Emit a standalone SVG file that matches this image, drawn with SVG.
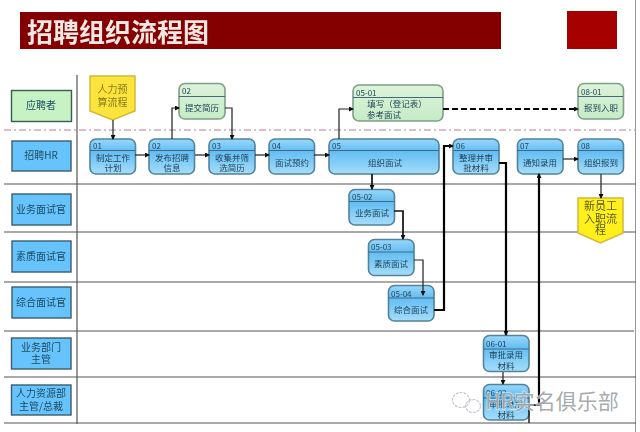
<svg xmlns="http://www.w3.org/2000/svg" width="640" height="432" viewBox="0 0 640 432">
<defs>
<linearGradient id="blue" x1="0" y1="0" x2="0" y2="1"><stop offset="0" stop-color="#9ad8fb"/><stop offset="0.35" stop-color="#62bdf4"/><stop offset="1" stop-color="#a6ddf9"/></linearGradient>
<linearGradient id="green" x1="0" y1="0" x2="0" y2="1"><stop offset="0" stop-color="#dcf3da"/><stop offset="1" stop-color="#c6ebc6"/></linearGradient>
<marker id="a" markerWidth="5" markerHeight="5" refX="4" refY="2.5" orient="auto" markerUnits="userSpaceOnUse"><path d="M0 0L5 2.5L0 5z" fill="#111"/></marker>
<filter id="soft" x="0" y="0" width="1" height="1"><feGaussianBlur stdDeviation="0.65"/></filter>
</defs>
<style>
text{font-family:"Noto Sans CJK SC","Liberation Sans",sans-serif;fill:#1f4358;text-anchor:middle}
.n{font-size:8.5px}
.id{font-size:8px;text-anchor:start}
.lane{font-size:10px;fill:#1d4a63}
.b{fill:url(#blue);stroke:#51839a;stroke-width:1.6}
.g{fill:url(#green);stroke:#7f9f87;stroke-width:1.6}
.h{stroke:#47687a;stroke-width:1;fill:none}
.lb{fill:#66c3fb;stroke:#3b5d70;stroke-width:1.4}
.lg{fill:#c6f2c4;stroke:#3b5d50;stroke-width:1.4}
.y{fill:#fff01e;stroke:#d4b83a;stroke-width:1.5}
.grid{stroke:#555;stroke-width:1.2;fill:none}
.c{stroke:#222;stroke-width:1.2;fill:none;marker-end:url(#a)}
.m{stroke:#111;stroke-width:1.7;fill:none;marker-end:url(#a)}
.t{stroke:#000;stroke-width:2.2;fill:none;marker-end:url(#a)}
</style>
<rect width="640" height="432" fill="#fff"/>
<g filter="url(#soft)">
<g id="header">
<rect x="20" y="12" width="481" height="37" fill="#840000"/>
<rect x="567" y="11" width="50" height="38" fill="#a60000"/>
<text x="118" y="42" style="font-size:26px;font-weight:700;fill:#f4e6e2">招聘组织流程图</text>
</g>
<g id="grid">
<path class="grid" d="M77 75V424M636 0V432M4 184H636M4 232H636M4 282H636M4 331H634M4 377H636M4 423H636"/>
<path d="M4 130H636" stroke="#b87f90" stroke-width="1" stroke-dasharray="7 3 2 3" fill="none"/>
</g>
<g id="lanes">
<g id="lane1"><rect class="lg" x="11.500" y="90.500" width="60" height="31"/><text class="lane" x="41" y="109">应聘者</text></g>
<g id="lane2"><rect class="lb" x="12" y="141" width="59" height="30"/><text class="lane" x="41" y="159">招聘HR</text></g>
<g id="lane3"><rect class="lb" x="12" y="194" width="59" height="31"/><text class="lane" x="41" y="213">业务面试官</text></g>
<g id="lane4"><rect class="lb" x="12" y="241" width="59" height="31"/><text class="lane" x="41" y="260">素质面试官</text></g>
<g id="lane5"><rect class="lb" x="12" y="287" width="59" height="31"/><text class="lane" x="41" y="306">综合面试官</text></g>
<g id="lane6"><rect class="lb" x="11.500" y="338" width="59.500" height="31"/><text class="lane" x="41" y="351">业务部门</text><text class="lane" x="41" y="363">主管</text></g>
<g id="lane7"><rect class="lb" x="11.500" y="385" width="59.500" height="30"/><text class="lane" x="41" y="397">人力资源部</text><text class="lane" x="41" y="410">主管/总裁</text></g>
</g>
<g id="start"><path class="y" style="fill:#fbe43a" d="M90 76H135V111L112.500 120L90 111Z"/><text class="n" style="font-size:10px;fill:#8a7a20" x="112.500" y="93">人力预</text><text class="n" style="font-size:10px;fill:#8a7a20" x="112.500" y="106">算流程</text></g>
<g id="n02a"><rect class="g" x="179" y="83.500" width="46" height="35.500" rx="6"/><path class="h" d="M179 96.500H225"/><text class="id" x="182" y="94">02</text><text class="n" x="202" y="111">提交简历</text></g>
<g id="n01"><rect class="b" x="90" y="139" width="45.500" height="35" rx="6"/><path class="h" d="M90 150.500H135"/><text class="id" x="93" y="149">01</text><text class="n" x="113" y="161">制定工作</text><text class="n" x="113" y="171">计划</text></g>
<g id="n02"><rect class="b" x="149" y="139" width="45.500" height="35" rx="6"/><path class="h" d="M149 150.500H194"/><text class="id" x="152" y="149">02</text><text class="n" x="172" y="161">发布招聘</text><text class="n" x="172" y="171">信息</text></g>
<g id="n03"><rect class="b" x="209" y="139" width="46" height="35" rx="6"/><path class="h" d="M209 150.500H255"/><text class="id" x="212" y="149">03</text><text class="n" x="232" y="161">收集并筛</text><text class="n" x="232" y="171">选简历</text></g>
<g id="n04"><rect class="b" x="269" y="139" width="45.500" height="35" rx="6"/><path class="h" d="M269 150.500H314"/><text class="id" x="272" y="149">04</text><text class="n" x="292" y="166">面试预约</text></g>
<g id="n05"><rect class="b" x="329" y="139" width="110" height="35" rx="6"/><path class="h" d="M329 150.500H439"/><text class="id" x="332" y="149">05</text><text class="n" x="385" y="166">组织面试</text></g>
<g id="n0501"><rect class="g" x="353" y="85" width="90" height="36" rx="6"/><path class="h" d="M353 97.500H443"/><text class="id" x="356" y="96">05-01</text><text class="n" x="397" y="107">填写（登记表）</text><text class="n" x="384" y="118">参考面试</text></g>
<g id="n0801"><rect class="g" x="578" y="83.500" width="45.500" height="35.500" rx="6"/><path class="h" d="M578 96.500H623"/><text class="id" x="581" y="95">08-01</text><text class="n" x="601" y="111">报到入职</text></g>
<g id="n06"><rect class="b" x="453" y="139" width="46" height="35" rx="6"/><path class="h" d="M453 150.500H499"/><text class="id" x="456" y="149">06</text><text class="n" x="476" y="161">整理并审</text><text class="n" x="476" y="171">批材料</text></g>
<g id="n07"><rect class="b" x="517.500" y="139" width="45.500" height="35" rx="6"/><path class="h" d="M517 150.500H563"/><text class="id" x="520" y="149">07</text><text class="n" x="540" y="166">通知录用</text></g>
<g id="n08"><rect class="b" x="578" y="139" width="45.500" height="35" rx="6"/><path class="h" d="M578 150.500H623"/><text class="id" x="581" y="149">08</text><text class="n" x="601" y="166">组织报到</text></g>
<g id="n0502"><rect class="b" x="349" y="189.500" width="45.500" height="35.500" rx="6"/><path class="h" d="M349 201.500H394"/><text class="id" x="352" y="200">05-02</text><text class="n" x="372" y="216">业务面试</text></g>
<g id="n0503"><rect class="b" x="368.500" y="239.500" width="45.500" height="36" rx="6"/><path class="h" d="M368 252H414"/><text class="id" x="371" y="250">05-03</text><text class="n" x="391" y="267">素质面试</text></g>
<g id="n0504"><rect class="b" x="388.500" y="285.500" width="45.500" height="35.500" rx="6"/><path class="h" d="M388 298H434"/><text class="id" x="391" y="297">05-04</text><text class="n" x="411" y="313">综合面试</text></g>
<g id="n0601"><rect class="b" x="483.500" y="335.500" width="45.500" height="36" rx="6"/><path class="h" d="M483 349H529"/><text class="id" x="486" y="347">06-01</text><text class="n" x="506" y="358">审批录用</text><text class="n" x="506" y="369">材料</text></g>
<g id="n0602"><rect class="b" x="483.500" y="384.500" width="45.500" height="35.500" rx="6"/><path class="h" d="M483 398H529"/><text class="id" x="486" y="396">06-02</text><text class="n" x="506" y="407">审批录用</text><text class="n" x="506" y="418">材料</text></g>
<g id="end"><path class="y" d="M578 198H623V233L600.500 243L578 233Z"/><text class="n" style="font-size:11px;fill:#5a5a20" x="600.500" y="210">新员工</text><text class="n" style="font-size:11px;fill:#5a5a20" x="600.500" y="223">入职流</text><text class="n" style="font-size:11px;fill:#5a5a20" x="600.500" y="234">程</text></g>
<g id="connectors">
<path class="c" d="M113 120V139"/>
<path class="c" d="M135 155H149"/>
<path class="c" d="M172 139V108H179"/>
<path class="c" d="M225 108H232V139"/>
<path class="c" d="M195 155H209"/>
<path class="c" d="M255 155H269"/>
<path class="c" d="M314 155H329"/>
<path class="c" d="M339 139V109H353"/>
<path class="t" d="M443 109H578" stroke-dasharray="6 3"/>
<path class="m" d="M372 174V189"/>
<path class="m" d="M394 211H403V239"/>
<path class="c" d="M414 260H423V295"/>
<path class="t" d="M434 310H444V146H453"/>
<path class="t" d="M499 163H506V335"/>
<path class="c" d="M503 372V384"/>
<path class="t" d="M529 405H539V174"/>
<path d="M529 405V423" stroke="#222" stroke-width="1.500" fill="none"/>
<path class="c" d="M563 159H578"/>
<path class="c" d="M601 174V198"/>
</g>
</g>
<g id="watermark"><g fill="none" stroke="#c4c8cc" stroke-width="1.200" stroke-dasharray="3 1"><ellipse cx="461" cy="400" rx="8.500" ry="7.500"/><ellipse cx="473" cy="406" rx="7.500" ry="6.500"/></g>
<text x="552" y="409" style="font-size:21px;fill:#9a9fa5;fill-opacity:.9;stroke:#fff;stroke-opacity:.6;stroke-width:1.500;paint-order:stroke">HR实名俱乐部</text></g>
</svg>
